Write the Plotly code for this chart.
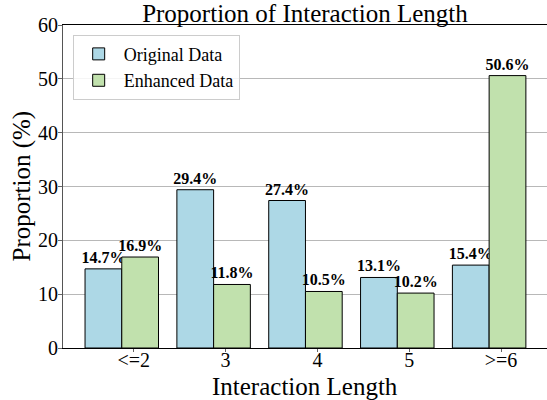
import plotly.graph_objects as go

categories = ["<=2", "3", "4", "5", ">=6"]
original_data = [14.7, 29.4, 27.4, 13.1, 15.4]
enhanced_data = [16.9, 11.8, 10.5, 10.2, 50.6]
y_ticks = [0, 10, 20, 30, 40, 50, 60]

positions = list(range(len(categories)))
tick_offset = 0.13
tick_positions = [p + tick_offset for p in positions]

FONT = "Liberation Serif"

fig = go.Figure()
fig.add_trace(go.Bar(
    x=positions, y=original_data, name="Original Data",
    marker=dict(color="#ADD8E6", line=dict(color="black", width=1)),
    texttemplate="<b>%{y:.1f}%</b>", textposition="outside",
    textfont=dict(family=FONT, size=16, color="black"),
    cliponaxis=False, constraintext="none",
))
fig.add_trace(go.Bar(
    x=positions, y=enhanced_data, name="Enhanced Data",
    marker=dict(color="#C1E1AD", line=dict(color="black", width=1)),
    texttemplate="<b>%{y:.1f}%</b>", textposition="outside",
    textfont=dict(family=FONT, size=16, color="black"),
    cliponaxis=False, constraintext="none",
))

fig.update_layout(
    width=547, height=400,
    margin=dict(l=63, r=0, t=25, b=52, autoexpand=False),
    paper_bgcolor="white", plot_bgcolor="white",
    barmode="group", bargap=0.2, bargroupgap=0,
    font=dict(family=FONT, color="black"),
    title=dict(text="Proportion of Interaction Length", x=0.5575, xanchor="center",
               y=0.968, yanchor="middle", yref="container",
               font=dict(family=FONT, size=25, color="black")),
    legend=dict(x=0.02, y=0.97, xanchor="left", yanchor="top",
                bgcolor="rgba(255,255,255,0.85)", bordercolor="#cccccc", borderwidth=1,
                font=dict(family=FONT, size=18, color="black"),
                tracegroupgap=0, itemwidth=40),
    xaxis=dict(
        range=[-0.64, 4.63], automargin=False,
        tickmode="array", tickvals=tick_positions, ticktext=categories,
        ticks="outside", ticklen=3, tickcolor="#666666",
        showline=True, linecolor="black", linewidth=1, mirror=True,
        showgrid=False, zeroline=False, ticklabelstandoff=-9,
        tickfont=dict(family=FONT, size=20, color="black"),
    ),
    yaxis=dict(
        range=[0, 60], tickmode="array", tickvals=y_ticks, automargin=False,
        ticks="outside", ticklen=4, tickcolor="#666666",
        showline=True, linecolor="#555555", linewidth=1, ticklabelstandoff=-4,
        showgrid=True, gridcolor="#b8b8b8", gridwidth=1, zeroline=False,
        tickfont=dict(family=FONT, size=20, color="black"),
    ),
    annotations=[
        dict(text="Interaction Length", xref="paper", yref="paper", x=0.5, y=0,
             xanchor="center", yanchor="middle", yshift=-38, showarrow=False,
             font=dict(family=FONT, size=25, color="black")),
        dict(text="Proportion (%)", xref="paper", yref="paper", x=0, y=0.5,
             xanchor="center", yanchor="middle", xshift=-42, textangle=-90, showarrow=False,
             font=dict(family=FONT, size=25, color="black")),
    ],
)

fig.write_html("out.html", config={"displayModeBar": False},
               post_script="document.body.style.margin='0';document.body.style.overflow='hidden';")
